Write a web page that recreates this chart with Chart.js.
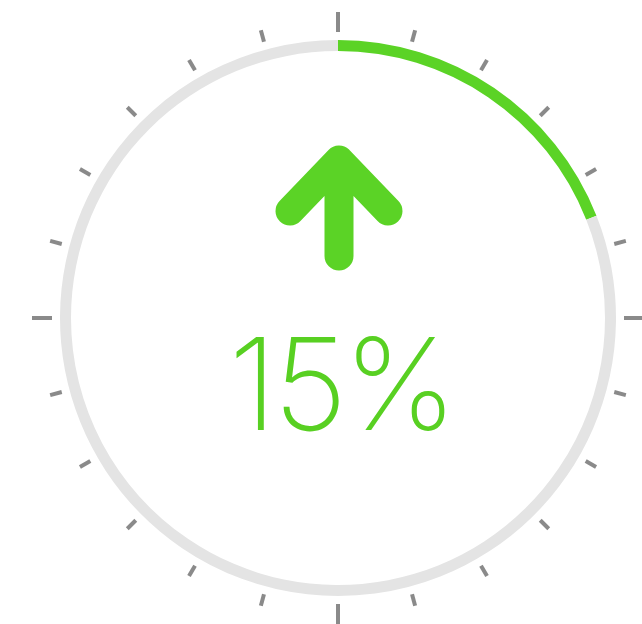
<!DOCTYPE html>
<html>
<head>
<meta charset="utf-8">
<script src="https://cdn.jsdelivr.net/npm/chart.js@4"></script>
<style>
  html, body { margin: 0; padding: 0; background: #fff; }
  #wrap { position: relative; width: 642px; height: 624px; }
  #gauge { position: absolute; left: 0; top: 0; }
  #pct {
    position: absolute; left: 0; width: 682px; top: 309px;
    text-align: center; font-family: Inter, Roboto, sans-serif;
    font-weight: 200; font-size: 128px; line-height: 150px; color: #58d022;
    letter-spacing: -4px;
  }
</style>
</head>
<body>
<div id="wrap">
  <canvas id="gauge" width="642" height="624"></canvas>
  <div id="pct">15%</div>
</div>
<script>
const labels = ['progress', 'rest'];
const values = [19, 81];
const ringColors = ['#5bd326', '#e4e4e4'];

// dial ticks: every 15 degrees, long ones every 90
const tickAngles = [];
for (let a = 0; a < 360; a += 15) tickAngles.push(a);
const majorEvery = 90;

const green = '#5bd326';

const dialTicks = {
  id: 'dialTicks',
  afterDatasetsDraw(chart) {
    const meta = chart.getDatasetMeta(0);
    const arc = meta.data[0];
    const cx = arc.x, cy = arc.y, r = arc.outerRadius;
    const c = chart.ctx;
    c.save();
    c.strokeStyle = '#8a8a8a';
    c.lineWidth = 4;
    for (const a of tickAngles) {
      const major = a % majorEvery === 0;
      const r0 = r + 8, r1 = major ? r + 28 : r + 20;
      const t = (a - 90) * Math.PI / 180;
      c.beginPath();
      c.moveTo(cx + Math.cos(t) * r0, cy + Math.sin(t) * r0);
      c.lineTo(cx + Math.cos(t) * r1, cy + Math.sin(t) * r1);
      c.stroke();
    }
    // up arrow in the middle
    c.strokeStyle = green;
    c.lineWidth = 29;
    c.lineCap = 'round';
    c.lineJoin = 'round';
    c.beginPath();
    c.moveTo(cx - 48, cy - 107);
    c.lineTo(cx + 1, cy - 158);
    c.lineTo(cx + 50, cy - 107);
    c.moveTo(cx + 1, cy - 156);
    c.lineTo(cx + 1, cy - 62);
    c.stroke();
    c.restore();
  }
};

new Chart(document.getElementById('gauge'), {
  type: 'doughnut',
  data: {
    labels: labels,
    datasets: [{ data: values, backgroundColor: ringColors, borderWidth: 0, hoverOffset: 0 }]
  },
  options: {
    responsive: false,
    animation: false,
    cutout: 267,
    layout: { padding: { left: 60, top: 40, right: 26, bottom: 28 } },
    plugins: { legend: { display: false }, tooltip: { enabled: false } }
  },
  plugins: [dialTicks]
});
</script>
</body>
</html>
